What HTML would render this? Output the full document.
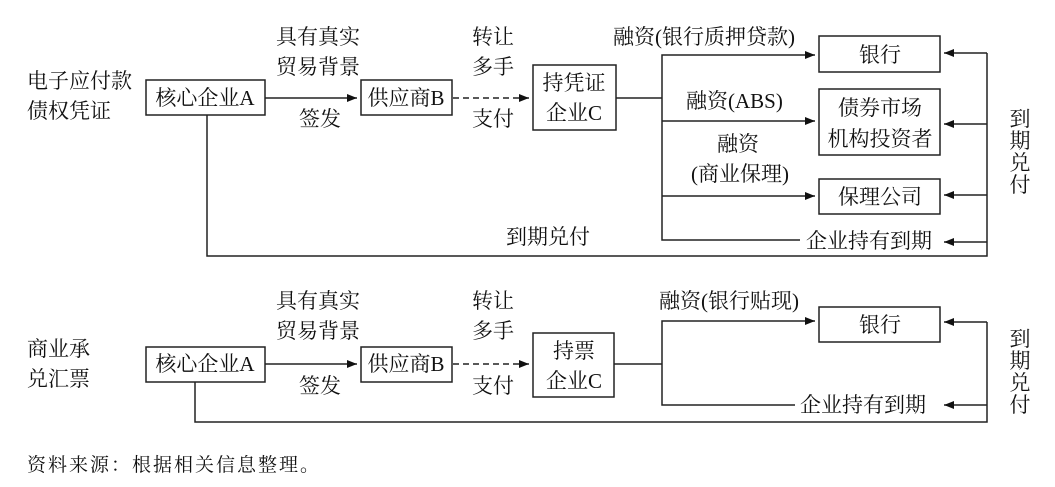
<!DOCTYPE html>
<html><head><meta charset="utf-8"><style>
html,body{margin:0;padding:0;background:#fff;}
svg{display:block;}
text{font-family:"Liberation Serif","Noto Serif CJK SC",serif;font-size:21px;fill:#111;}
</style></head><body>
<svg width="1055" height="487" viewBox="0 0 1055 487" xmlns="http://www.w3.org/2000/svg">
<defs>
<marker id="ar" markerWidth="10" markerHeight="8" refX="10" refY="4" orient="auto" markerUnits="userSpaceOnUse">
<path d="M0,0 L10,4 L0,8 Z" fill="#111"/></marker>
</defs>
<g stroke="#222" stroke-width="1.5" fill="none">
<!-- top -->
<rect x="146" y="80" width="119" height="35"/>
<rect x="361" y="80" width="91" height="35"/>
<rect x="533" y="65" width="83" height="65"/>
<rect x="819" y="36" width="121" height="36"/>
<rect x="819" y="89" width="121" height="66"/>
<rect x="819" y="179" width="121" height="35"/>
<line x1="265" y1="98" x2="357" y2="98" marker-end="url(#ar)"/>
<line x1="453" y1="98" x2="529" y2="98" stroke-dasharray="6,4" marker-end="url(#ar)"/>
<line x1="616" y1="98" x2="662" y2="98"/>
<polyline points="800,240 662,240 662,55 815,55" marker-end="url(#ar)"/>
<line x1="662" y1="121" x2="815" y2="121" marker-end="url(#ar)"/>
<line x1="662" y1="196" x2="815" y2="196" marker-end="url(#ar)"/>
<polyline points="987,53 987,256 207,256 207,115"/>
<line x1="987" y1="53" x2="944" y2="53" marker-end="url(#ar)"/>
<line x1="987" y1="124" x2="944" y2="124" marker-end="url(#ar)"/>
<line x1="987" y1="195" x2="944" y2="195" marker-end="url(#ar)"/>
<line x1="987" y1="242" x2="944" y2="242" marker-end="url(#ar)"/>
<!-- bottom -->
<rect x="146" y="347" width="119" height="35"/>
<rect x="361" y="347" width="91" height="35"/>
<rect x="533" y="333" width="81" height="64"/>
<rect x="819" y="307" width="121" height="35"/>
<line x1="265" y1="364" x2="357" y2="364" marker-end="url(#ar)"/>
<line x1="453" y1="364" x2="529" y2="364" stroke-dasharray="6,4" marker-end="url(#ar)"/>
<line x1="614" y1="364" x2="662" y2="364"/>
<polyline points="795,405 662,405 662,321 815,321" marker-end="url(#ar)"/>
<polyline points="987,322 987,422 195,422 195,382"/>
<line x1="987" y1="322" x2="944" y2="322" marker-end="url(#ar)"/>
<line x1="987" y1="405" x2="944" y2="405" marker-end="url(#ar)"/>
</g>
<!-- top texts -->
<text x="27" y="88">电子应付款</text>
<text x="27" y="118">债权凭证</text>
<text x="205" y="105" text-anchor="middle">核心企业A</text>
<text x="406" y="105" text-anchor="middle">供应商B</text>
<text x="574" y="90" text-anchor="middle">持凭证</text>
<text x="574" y="120" text-anchor="middle">企业C</text>
<text x="318" y="44" text-anchor="middle">具有真实</text>
<text x="318" y="74" text-anchor="middle">贸易背景</text>
<text x="320" y="126" text-anchor="middle">签发</text>
<text x="493" y="44" text-anchor="middle">转让</text>
<text x="493" y="74" text-anchor="middle">多手</text>
<text x="493" y="126" text-anchor="middle">支付</text>
<text x="613" y="44">融资(银行质押贷款)</text>
<text x="686" y="108">融资(ABS)</text>
<text x="738" y="151" text-anchor="middle">融资</text>
<text x="740" y="181" text-anchor="middle">(商业保理)</text>
<text x="880" y="62" text-anchor="middle">银行</text>
<text x="880" y="115" text-anchor="middle">债券市场</text>
<text x="880" y="146" text-anchor="middle">机构投资者</text>
<text x="880" y="204" text-anchor="middle">保理公司</text>
<text x="806" y="248">企业持有到期</text>
<text x="548" y="244" text-anchor="middle">到期兑付</text>
<text x="1020" y="126" text-anchor="middle">到</text>
<text x="1020" y="148" text-anchor="middle">期</text>
<text x="1020" y="170" text-anchor="middle">兑</text>
<text x="1020" y="192" text-anchor="middle">付</text>
<!-- bottom texts -->
<text x="27" y="356">商业承</text>
<text x="27" y="386">兑汇票</text>
<text x="205" y="371" text-anchor="middle">核心企业A</text>
<text x="406" y="371" text-anchor="middle">供应商B</text>
<text x="574" y="358" text-anchor="middle">持票</text>
<text x="574" y="388" text-anchor="middle">企业C</text>
<text x="318" y="308" text-anchor="middle">具有真实</text>
<text x="318" y="338" text-anchor="middle">贸易背景</text>
<text x="320" y="393" text-anchor="middle">签发</text>
<text x="493" y="308" text-anchor="middle">转让</text>
<text x="493" y="338" text-anchor="middle">多手</text>
<text x="493" y="393" text-anchor="middle">支付</text>
<text x="659" y="308">融资(银行贴现)</text>
<text x="880" y="332" text-anchor="middle">银行</text>
<text x="800" y="412">企业持有到期</text>
<text x="1020" y="346" text-anchor="middle">到</text>
<text x="1020" y="368" text-anchor="middle">期</text>
<text x="1020" y="390" text-anchor="middle">兑</text>
<text x="1020" y="412" text-anchor="middle">付</text>
<text x="27" y="471" style="font-size:19px;letter-spacing:2px">资料来源：根据相关信息整理。</text>
</svg>
</body></html>
